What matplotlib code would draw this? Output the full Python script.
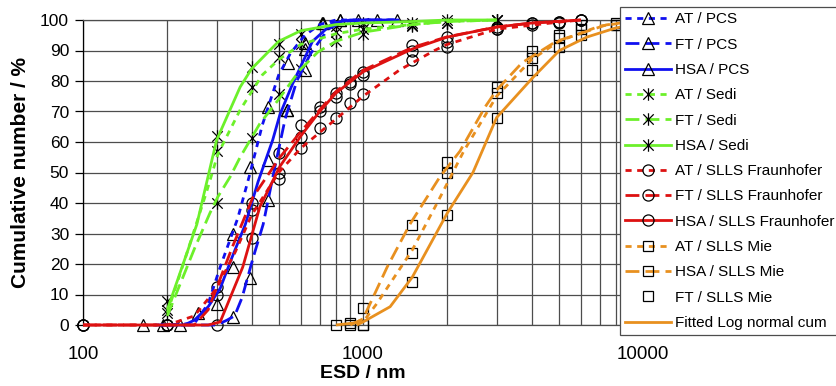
import matplotlib
matplotlib.use("Agg")
import matplotlib.pyplot as plt
from matplotlib.lines import Line2D
from matplotlib.path import Path
from matplotlib.ticker import FixedLocator, NullFormatter, FuncFormatter

plt.rcParams['font.family'] = ['Liberation Sans', 'DejaVu Sans']

# ---------------- data: fitted / smoothed curves ----------------
at_pcs_cx = [190, 250, 280, 309, 357, 393, 437, 500, 550, 620, 700, 800, 1000, 1300]
at_pcs_cy = [0, 0.5, 7, 19, 35, 49, 65.6, 82, 89, 95, 98.5, 100, 100, 100]
ft_pcs_cx = [190, 300, 327, 348, 370, 405, 440, 480, 527, 580, 650, 750, 850, 1000, 1300]
ft_pcs_cy = [0, 0, 1.6, 3, 9, 22, 33, 50, 67.5, 80, 89, 97, 99.5, 100, 100]
hsa_pcs_cx = [180, 230, 250, 280, 309, 340, 380, 422, 476, 505, 560, 660, 780, 900, 1000, 1350]
hsa_pcs_cy = [0, 0, 1.6, 6, 12, 22, 33, 47, 60.7, 69, 79, 93, 99, 100, 100, 100]

at_sedi_cx = [200, 237, 277, 303, 364, 437, 500, 600, 800, 1000, 1500, 2000, 3000]
at_sedi_cy = [4, 24.6, 44, 56, 70.5, 82, 87, 92, 95.5, 97, 98.5, 99.5, 100]
ft_sedi_cx = [200, 250, 284, 303, 335, 364, 428, 500, 595, 690, 800, 1000, 1500, 2000, 3000]
ft_sedi_cy = [3, 25, 36.7, 42, 48.5, 55, 66, 74, 83.6, 89.5, 93, 96, 98.5, 99.5, 100]
hsa_sedi_cx = [200, 255, 300, 364, 400, 500, 600, 800, 1000, 1500, 2000, 3000]
hsa_sedi_cy = [5, 33, 60.6, 78, 84, 93, 96.5, 98.5, 99, 99.5, 100, 100]

at_fr_cx = [100, 200, 250, 300, 350, 400, 500, 600, 800, 1000, 1150, 1350, 1800, 2000, 3000, 5000, 6000]
at_fr_cy = [0, 0, 3, 12, 24, 36, 50, 58, 67.5, 75, 79, 83.6, 90, 92, 97, 99.3, 100]
ft_fr_cx = [100, 250, 280, 343, 405, 505, 595, 700, 800, 1000, 1500, 2000, 3000, 4000, 6000]
ft_fr_cy = [0, 0, 5, 26, 42, 55, 63, 70.5, 76.5, 83.5, 91, 94.5, 97.7, 99, 100]
hsa_fr_cx = [100, 280, 309, 372, 428, 505, 600, 700, 800, 1000, 1500, 2000, 3000, 4000, 6000]
hsa_fr_cy = [0, 0, 1, 19, 38.7, 52, 62, 70, 76, 83, 90.5, 94.4, 97.7, 99, 100]

at_mie_cx = [950, 1000, 1120, 1500, 1840, 2290, 3000, 4000, 5000, 7000, 10000]
at_mie_cy = [0, 1, 7, 24.6, 40, 57, 75, 87, 93, 98, 100]
hsa_mie_cx = [900, 1000, 1220, 1470, 1880, 2220, 2730, 3000, 3700, 4900, 7400, 10000]
hsa_mie_cy = [0, 2, 19, 33, 48.5, 57, 71.5, 77, 86, 93, 98.4, 100]
fit_cx = [800, 1000, 1250, 1500, 2000, 2470, 3000, 4030, 5030, 6300, 8000, 10000]
fit_cy = [0, 1, 6, 15.7, 36.7, 50, 68, 81, 90, 94.4, 97.4, 99]

# ---------------- data: measured points ----------------
at_pcs_x = [193, 257, 343, 395, 458, 540, 620, 715, 830]
at_pcs_y = [0, 4, 30, 51.8, 71.5, 86, 92.5, 99, 100]
ft_pcs_x = [343, 395, 458, 535, 620, 720, 1120, 1320]
ft_pcs_y = [2.6, 15.4, 41, 70.5, 83.6, 99, 100, 100]
hsa_pcs_x = [164, 222, 300, 343, 458, 535, 620, 830, 960]
hsa_pcs_y = [0, 0, 7, 19, 54, 70.5, 90.5, 100, 100]

sedi_x = [200, 300, 400, 500, 600, 800, 1000, 1500, 2000, 3000]
at_sedi_y = [5, 57, 78, 88, 92, 96, 97, 98.5, 99, 100]
ft_sedi_y = [4, 40, 61.4, 75.7, 84, 93, 95.4, 98, 99, 100]
hsa_sedi_y = [8, 62, 84.6, 92, 95.4, 98, 99, 99, 100, 100]

fr_x = [100, 200, 300, 400, 500, 600, 700, 800, 900, 1000, 1500, 2000, 3000, 4000, 5000, 6000]
at_fr_y = [0, 0, 12.5, 37.7, 48, 58, 64.6, 68, 72.8, 75.7, 87, 91, 97, 98.5, 99, 100]
ft_fr_y = [0, 0, 10, 40, 56.4, 65.6, 71.5, 76, 79.7, 83, 91.8, 94.4, 97.7, 99, 99.3, 100]
hsa_fr_y = [0, 0, 0, 28.5, 50, 61.6, 70, 74.8, 79, 82, 90, 92.8, 97, 99, 99.3, 100]

at_mie_x = [900, 1000, 1500, 2000, 3000, 4000, 5000, 6000, 8000]
at_mie_y = [0, 0, 23.6, 50, 76, 87.5, 94, 97, 98.4]
hsa_mie_x = [800, 900, 1000, 1500, 2000, 3000, 4000, 5000, 6000, 8000]
hsa_mie_y = [0, 0.5, 5.6, 32.8, 53.4, 78, 90, 95, 98.4, 99]
ft_mie_x = [1000, 1500, 2000, 3000, 4000, 5000, 6000, 8000]
ft_mie_y = [0, 14, 36, 67.8, 83.6, 91, 95, 98.4]

labels = ['AT / PCS', 'FT / PCS', 'HSA / PCS', 'AT / Sedi', 'FT / Sedi', 'HSA / Sedi',
          'AT / SLLS Fraunhofer', 'FT / SLLS Fraunhofer', 'HSA / SLLS Fraunhofer',
          'AT / SLLS Mie', 'HSA / SLLS Mie', 'FT / SLLS Mie', 'Fitted Log normal cum']

x_ticks = [100, 1000, 10000]
y_ticks = list(range(0, 101, 10))

# ---------------- styles ----------------
BLUE = '#1010F0'
GREEN = '#6CF02A'
RED = '#DD1111'
ORANGE = '#E8901F'
SHORT = (0, (2.2, 2.0))
LONG = (0, (5.0, 2.2))
SOLID = '-'
LW = 2.0

star = Path([(-1, -1), (1, 1), (-1, 1), (1, -1), (0, -1.2), (0, 1.2)],
            [Path.MOVETO, Path.LINETO, Path.MOVETO, Path.LINETO, Path.MOVETO, Path.LINETO])

series = [
    (at_pcs_cx, at_pcs_cy, at_pcs_x, at_pcs_y, BLUE, SHORT, '^', 9),
    (ft_pcs_cx, ft_pcs_cy, ft_pcs_x, ft_pcs_y, BLUE, LONG, '^', 9),
    (hsa_pcs_cx, hsa_pcs_cy, hsa_pcs_x, hsa_pcs_y, BLUE, SOLID, '^', 9),
    (at_sedi_cx, at_sedi_cy, sedi_x, at_sedi_y, GREEN, SHORT, star, 9),
    (ft_sedi_cx, ft_sedi_cy, sedi_x, ft_sedi_y, GREEN, LONG, star, 9),
    (hsa_sedi_cx, hsa_sedi_cy, sedi_x, hsa_sedi_y, GREEN, SOLID, star, 9),
    (at_fr_cx, at_fr_cy, fr_x, at_fr_y, RED, SHORT, 'o', 8),
    (ft_fr_cx, ft_fr_cy, fr_x, ft_fr_y, RED, LONG, 'o', 8),
    (hsa_fr_cx, hsa_fr_cy, fr_x, hsa_fr_y, RED, SOLID, 'o', 8),
    (at_mie_cx, at_mie_cy, at_mie_x, at_mie_y, ORANGE, SHORT, 's', 7.5),
    (hsa_mie_cx, hsa_mie_cy, hsa_mie_x, hsa_mie_y, ORANGE, LONG, 's', 7.5),
    (None, None, ft_mie_x, ft_mie_y, None, 'none', 's', 7.5),
    (fit_cx, fit_cy, None, None, ORANGE, SOLID, None, 0),
]

fig = plt.figure(figsize=(8.37, 3.86), dpi=100)
ax = fig.add_axes([83 / 837, 1 - 325 / 386, (643 - 83) / 837, (325 - 20) / 386])
ax.set_xscale('log')
ax.set_xlim(100, 10000)
ax.set_ylim(0, 100)

handles = []
for cx, cy, mx, my, col, ls, mk, ms in series:
    if mx is not None:
        ax.plot(mx, my, linestyle='none', marker=mk, ms=ms, mfc='none', mec='black',
                mew=0.9, clip_on=False, zorder=3)
    if cx is not None:
        ax.plot(cx, cy, color=col, linestyle=ls, lw=LW, zorder=4, clip_on=False,
                solid_capstyle='butt', dash_capstyle='butt')
    handles.append(Line2D([], [], color=col if col else 'none', linestyle=ls, lw=LW,
                          marker=mk if mk is not None else None, ms=ms, mfc='none',
                          mec='black', mew=0.9))

# grid
ax.xaxis.set_major_locator(FixedLocator(x_ticks))
ax.xaxis.set_major_formatter(FuncFormatter(lambda v, p: f"{int(v)}"))
minor = [m * d for d in (100, 1000) for m in range(2, 10)]
ax.xaxis.set_minor_locator(FixedLocator(minor))
ax.xaxis.set_minor_formatter(NullFormatter())
ax.set_yticks(y_ticks)
ax.grid(True, which='both', axis='x', color='0.3', lw=0.9)
ax.grid(True, which='major', axis='y', color='0.3', lw=0.9)
ax.set_axisbelow(True)
ax.tick_params(axis='x', which='both', length=0, pad=15, labelsize=13.5)
ax.tick_params(axis='y', which='major', length=6, width=0.9, direction='out', labelsize=12.5, pad=4)
for s in ax.spines.values():
    s.set_color('0.3')
    s.set_linewidth(0.9)
ax.spines['left'].set_color('black')

fig.text(363 / 837, 1 - 374 / 386, 'ESD / nm', fontsize=14, fontweight='bold',
         ha='center', va='center')
ax.set_ylabel('Cumulative number / %', fontsize=15, fontweight='bold', labelpad=7)

leg = fig.legend(handles, labels, loc='upper left', bbox_to_anchor=(620 / 837, 1 - 7 / 386),
                 bbox_transform=fig.transFigure, borderaxespad=0, fancybox=False,
                 edgecolor='0.3', framealpha=1, fontsize=11, handlelength=3.0,
                 handletextpad=0.25, labelspacing=0.74, borderpad=0.35)
leg.get_frame().set_linewidth(0.9)

fig.savefig('out.png', dpi=100)
